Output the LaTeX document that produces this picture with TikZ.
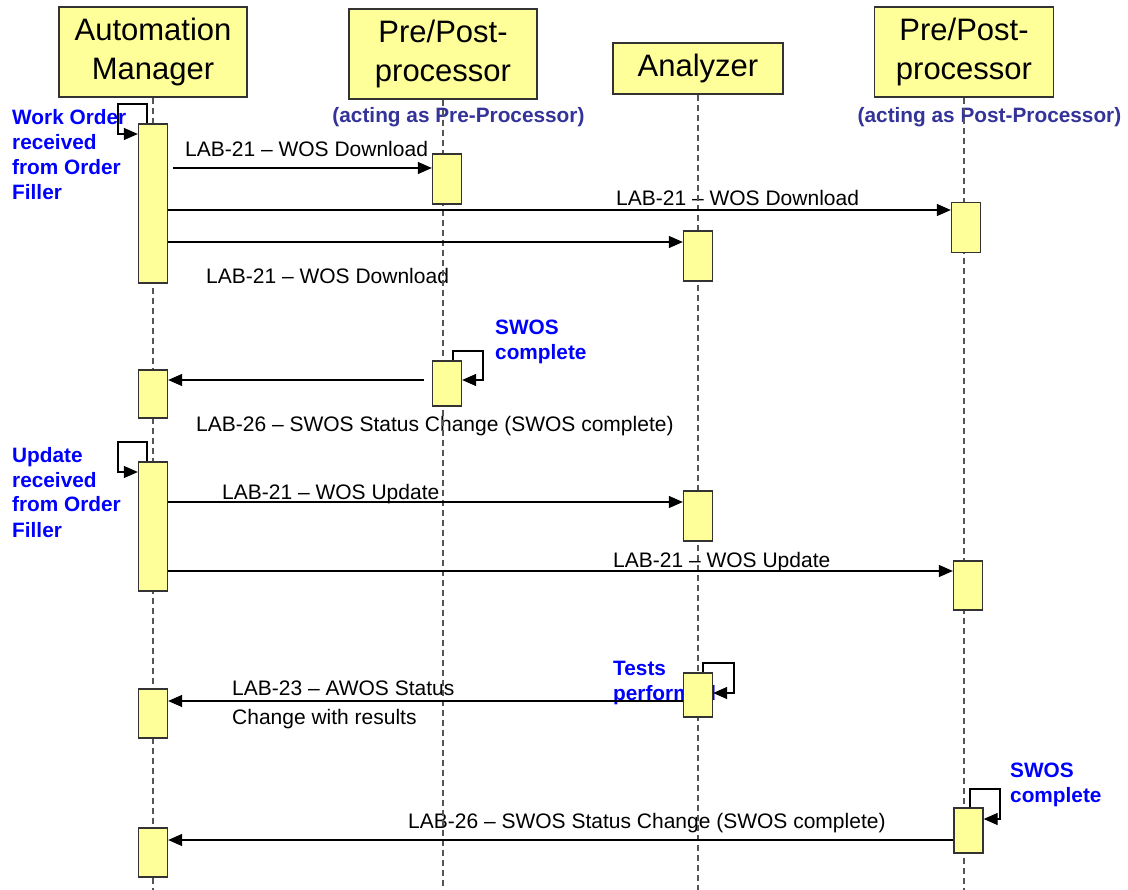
\documentclass[tikz,border=0pt]{standalone}
\usepackage{fontspec}
\setmainfont{Liberation Sans}
\usetikzlibrary{positioning,arrows.meta}
\definecolor{boxyellow}{HTML}{FFFF99}
\definecolor{noteblue}{HTML}{0000FF}
\definecolor{roleblue}{HTML}{333399}
\definecolor{lifegray}{HTML}{555555}
\newcommand{\headfont}{\fontsize{31}{38.5}\selectfont}
\newcommand{\msgfont}{\fontsize{21}{29}\selectfont}
\newcommand{\notefont}{\fontsize{20.8}{25}\selectfont\bfseries}
\newcommand{\rolefont}{\fontsize{20.8}{25}\selectfont\bfseries}

\begin{document}
\begin{tikzpicture}[x=1pt, y=-1pt,
    headbox/.style={draw=black!80, line width=1.4pt, fill=boxyellow, align=center, inner sep=0pt, font=\headfont},
    actbox/.style={draw=black!80, line width=1.3pt, fill=boxyellow, minimum width=29pt, inner sep=0pt},
    lifeline/.style={lifegray, line width=1.3pt, dash pattern=on 6pt off 4pt},
    msg/.style={line width=1.2pt, -{Triangle[length=14pt,width=12pt]}},
    msgtext/.style={inner sep=0pt, anchor=base west, align=left, font=\msgfont},
    note/.style={inner sep=0pt, anchor=base west, align=left, text=noteblue, font=\notefont},
    role/.style={inner sep=0pt, anchor=base, text=roleblue, font=\rolefont}]
      \useasboundingbox (0,0) rectangle (1128,890);
      \coordinate (bottom) at (0,890);

      % Define the lifeline heads
      \node[headbox, minimum width=188pt, minimum height=90pt] (am) at (153,52) {Automation\\Manager};
      \node[headbox, minimum width=188pt, minimum height=90pt] (pre) at (443,54) {Pre/Post-\\processor};
      \node[headbox, minimum width=170pt, minimum height=51pt] (ana) at (698,68.5) {Analyzer};
      \node[headbox, minimum width=179pt, minimum height=90pt] (post) at (964,52) {Pre/Post-\\processor};
      \node[role] (r1) at (458.5,123) {(acting as Pre-Processor)};
      \node[role] (r2) at (989.5,123) {(acting as Post-Processor)};

      % Define the message texts and notes (base = last line)
      \node[msgtext] (t1) at (185,157) {LAB-21 -- WOS Download};
      \node[msgtext] (t2) at (616,206) {LAB-21 -- WOS Download};
      \node[msgtext] (t3) at (206,284) {LAB-21 -- WOS Download};
      \node[msgtext] (t4) at (196,432) {LAB-26 -- SWOS Status Change (SWOS complete)};
      \node[msgtext] (t5) at (222,500) {LAB-21 -- WOS Update};
      \node[msgtext] (t6) at (613,567) {LAB-21 -- WOS Update};
      \node[msgtext] (t7) at (232,724) {LAB-23 -- AWOS Status\\Change with results};
      \node[msgtext] (t8) at (408,828) {LAB-26 -- SWOS Status Change (SWOS complete)};

      \node[note] (n1) at (12,200) {Work Order\\received\\from Order\\Filler};
      \node[note] (n2) at (495,360) {SWOS\\complete};
      \node[note] (n3) at (12,537) {Update\\received\\from Order\\Filler};
      \node[note] (n4) at (613,700) {Tests\\performed};
      \node[note] (n5) at (1010,802) {SWOS\\complete};

      % Draw the lifelines
      \draw[lifeline] (am.south) -- (am.south |- bottom);
      \draw[lifeline] (pre.south) -- (pre.south |- bottom);
      \draw[lifeline] (ana.south) -- (ana.south |- bottom);
      \draw[lifeline] (post.south) -- (post.south |- bottom);

      % Define the activation boxes
      \node[actbox, minimum height=159pt] (am1) at (153,203.5) {};
      \node[actbox, minimum height=48pt] (am2) at (153,394) {};
      \node[actbox, minimum height=129pt] (am3) at (153,526.5) {};
      \node[actbox, minimum height=49pt] (am4) at (153,713.5) {};
      \node[actbox, minimum height=49pt] (am5) at (153,852.5) {};
      \node[actbox, minimum height=50pt] (pre1) at (447,179) {};
      \node[actbox, minimum height=45pt] (pre2) at (447,383.5) {};
      \node[actbox, minimum height=50pt] (ana1) at (698,256) {};
      \node[actbox, minimum height=50pt] (ana2) at (698,516) {};
      \node[actbox, minimum height=44pt] (ana3) at (698,695) {};
      \node[actbox, minimum height=50pt] (post1) at (966,227.5) {};
      \node[actbox, minimum height=49pt] (post2) at (968,585.5) {};
      \node[actbox, minimum height=45pt] (post3) at (968.5,830.5) {};

      % Draw the self messages
      \draw[msg] ([xshift=-6pt]am1.north) |- (118,104) |- (am1.west |- 0,134);
      \draw[msg] ([xshift=6pt]pre2.north) |- (483,351) |- (pre2.east |- 0,380);
      \draw[msg] ([xshift=-6pt]am3.north) |- (118,442) |- (am3.west |- 0,472);
      \draw[msg] ([xshift=5pt]ana3.north) |- (734,663) |- (ana3.east |- 0,693);
      \draw[msg] ([xshift=1.5pt]post3.north) |- (1000,789) |- (post3.east |- 0,819);

      % Draw the messages between the lifelines
      \draw[msg, shorten <=5pt] (am1.east |- 0,168) -- (pre1.west |- 0,168);
      \draw[msg] (am1.east |- 0,210) -- (post1.west |- 0,210);
      \draw[msg] (am1.east |- 0,242) -- (ana1.west |- 0,242);
      \draw[msg, shorten <=8pt] (pre2.west |- 0,380) -- (am2.east |- 0,380);
      \draw[msg] (am3.east |- 0,502) -- (ana2.west |- 0,502);
      \draw[msg] (am3.east |- 0,571) -- (post2.west |- 0,571);
      \draw[msg] (ana3.west |- 0,701) -- (am4.east |- 0,701);
      \draw[msg] (post3.west |- 0,840) -- (am5.east |- 0,840);
\end{tikzpicture}
\end{document}
